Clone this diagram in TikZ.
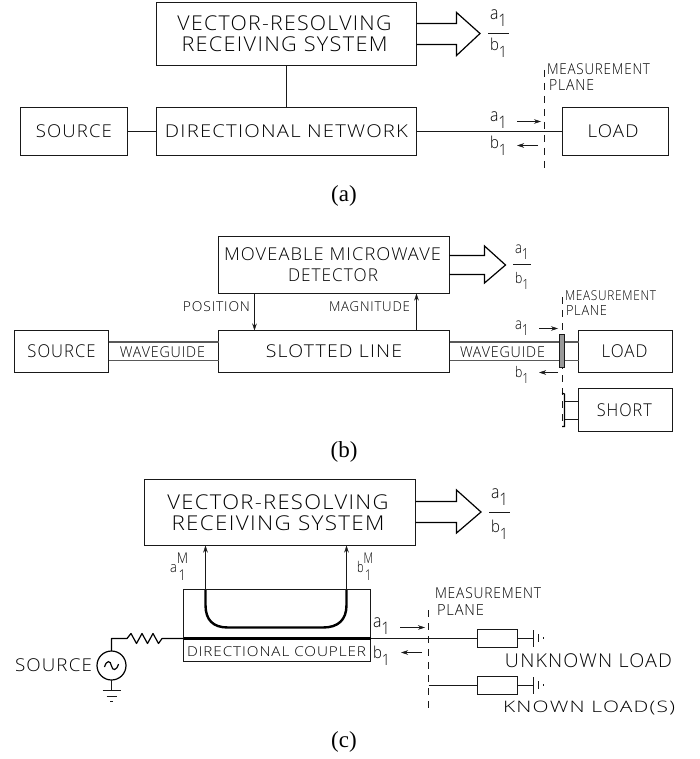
\documentclass[tikz,border=0pt]{standalone}
\usepackage{fontspec}
\usepackage{graphicx}
\usetikzlibrary{arrows.meta}
\setmainfont{Liberation Serif}
\newfontfamily\cadfont[LetterSpace=6]{Open Sans Light}
\newcommand{\cad}[4][0]{\hspace*{#1pt}\hspace*{#1pt}\resizebox*{#2pt}{#3pt}{\cadfont #4}}
\newcommand{\aone}{a\raisebox{-4pt}{\scalebox{.95}{1}}}
\newcommand{\bone}{b\raisebox{-4pt}{\scalebox{.95}{1}}}
\tikzset{
  x=1pt,y=-1pt,
  line width=1pt,
  every node/.style={inner sep=0pt,outer sep=0pt,text=black},
  box/.style 2 args={draw=black!90,minimum width=#1pt,minimum height=#2pt,align=center,font=\fontsize{10}{21}\selectfont},
  wire/.style={draw=black!90},
  poly/.style={draw=black,line width=1.2pt,line join=miter},
  tip/.style={draw=black!90,-{Stealth[length=7pt,width=4.5pt]}},
  wg/.style={draw=black!65,line width=1.8pt},
  plane/.style={draw=black!90,dash pattern=on 7pt off 6pt},
  thickline/.style={draw=black,line width=3pt},
  caption/.style={font=\fontsize{23}{26}\selectfont,text=black},
}
\begin{document}
\begin{tikzpicture}
\useasboundingbox (0,0) rectangle (699,759);
% ---------- (a)
\node[box={260}{63}] (ra) at (286.5,34) {\cad[-2]{214}{15}{VECTOR-RESOLVING}\\\cad[-2]{206}{15}{RECEIVING SYSTEM}};
\node[box={107}{48}] (sa) at (74,131.5) {\cad{76}{13}{SOURCE}};
\node[box={260}{48}] (na) at (286.5,131.5) {\cad{243}{13}{DIRECTIONAL NETWORK}};
\node[box={106}{48}] (la) at (615.5,131.5) {\cad[-2.5]{51}{13}{LOAD}};
\draw[wire] (ra) -- (na);
\draw[wire] (sa) -- (na);
\draw[wire] (na) -- (la);
\coordinate (fa1) at (416.5,23.5); \coordinate (fa2) at (416.5,44.5);
\draw[poly] (fa1) -- (456.5,23.5) -- (456.5,12.5) -- (480,33.5) -- (456.5,55.5) -- (456.5,44.5) -- (fa2);
\node (fnaa) at (498.5,18) {\cad{17}{17}{\aone}};
\node (fnba) at (498.5,48) {\cad{17}{19}{\bone}};
\coordinate (fba1) at (488,33.5); \coordinate (fba2) at (509,33.5);
\draw[wire] (fba1) -- (fba2);
\coordinate (pa1) at (544.5,70); \coordinate (pa2) at (544.5,168);
\draw[plane] (pa1) -- (pa2);
\node (mpa) at (598.5,69) {\cad{103}{11}{MEASUREMENT}};
\node (mpb) at (571.5,85) {\cad{45}{11}{PLANE}};
\node (aa) at (498.5,120) {\cad{17}{17}{\aone}};
\node (ba) at (498.5,146) {\cad{17}{19}{\bone}};
\coordinate (aa1) at (517,121.5); \coordinate (aa2) at (541,121.5);
\coordinate (ba1) at (538,145.5); \coordinate (ba2) at (517,145.5);
\draw[tip] (aa1) -- (aa2);
\draw[tip] (ba1) -- (ba2);
\node[caption] (capa) at (344,196) {(a)};
% ---------- (b)
\node[box={231}{57}] (db) at (334,265) {\cad[-1.5]{217}{13}{MOVEABLE MICROWAVE}\\\cad[-1]{90}{13}{DETECTOR}};
\node[box={94}{42}] (sb) at (61.5,351.5) {\cad{68}{13}{SOURCE}};
\node[box={231}{42}] (slb) at (334,351.5) {\cad{136}{13}{SLOTTED LINE}};
\node[box={94}{42}] (lb) at (625.5,351.5) {\cad[-1]{46}{13}{LOAD}};
\node[box={94}{43}] (shb) at (625.5,410) {\cad[-1.2]{55}{13}{SHORT}};
\coordinate (pb1) at (254.5,293.5); \coordinate (pb2) at (254.5,330.5);
\coordinate (mb1) at (416.5,330.5); \coordinate (mb2) at (416.5,293.5);
\draw[tip] (pb1) -- (pb2);
\draw[tip] (mb1) -- (mb2);
\node (posb) at (216.5,307) {\cad{67}{10}{POSITION}};
\node (magb) at (369.5,307) {\cad{81}{10}{MAGNITUDE}};
\draw[wg] (sb.east |- 0,342) -- (slb.west |- 0,342);
\draw[wg] (sb.east |- 0,360.5) -- (slb.west |- 0,360.5);
\node (wgb1) at (162.5,352) {\cad{85}{11}{WAVEGUIDE}};
\draw[wg] (slb.east |- 0,342) -- (lb.west |- 0,342);
\draw[wg] (slb.east |- 0,360.5) -- (lb.west |- 0,360.5);
\node (wgb2) at (502.5,352) {\cad{85}{11}{WAVEGUIDE}};
\coordinate (plb1) at (562.5,297); \coordinate (plb2) at (562.5,426);
\draw[plane] (plb1) -- (plb2);
\node[draw=black!90,fill=black!40,minimum width=5pt,minimum height=33pt] (flb) at (562,350.5) {};
\node (mpb1) at (610.5,296) {\cad{91}{10}{MEASUREMENT}};
\node (mpb2) at (586.5,310) {\cad{41}{10}{PLANE}};
\node (ab) at (522,328) {\cad{14}{15}{\aone}};
\node (bb) at (522,375) {\cad{14}{17}{\bone}};
\coordinate (ab1) at (539,328.5); \coordinate (ab2) at (558,328.5);
\coordinate (bb1) at (558,372.5); \coordinate (bb2) at (539,372.5);
\draw[tip] (ab1) -- (ab2);
\draw[tip] (bb1) -- (bb2);
\coordinate (sp1) at (564.5,401.5); \coordinate (sp2) at (564.5,419.5);
\draw[wire] (sp1) -- (sp1 -| shb.west);
\draw[wire] (sp2) -- (sp2 -| shb.west);
\draw[poly] (562,393) -- (564.5,394) -- (564.5,426.5) -- (562,426.5);
\coordinate (fb1) at (449.5,255.5); \coordinate (fb2) at (449.5,274.5);
\draw[poly] (fb1) -- (484.5,255.5) -- (484.5,246) -- (505.5,265) -- (484.5,283) -- (484.5,274.5) -- (fb2);
\node (fnab) at (522,252) {\cad{14}{15}{\aone}};
\node (fnbb) at (522,281) {\cad{14}{17}{\bone}};
\coordinate (fbb1) at (513,264.5); \coordinate (fbb2) at (531,264.5);
\draw[wire] (fbb1) -- (fbb2);
\node[caption] (capb) at (344,452) {(b)};
% ---------- (c)
\node[box={271}{66}] (rc) at (280,512.5) {\cad[-2]{221}{15}{VECTOR-RESOLVING}\\\cad[-2]{213}{15}{RECEIVING SYSTEM}};
\coordinate (fc1) at (415.5,501.5); \coordinate (fc2) at (415.5,522.5);
\draw[poly] (fc1) -- (456.5,501.5) -- (456.5,490) -- (481,512) -- (456.5,533) -- (456.5,522.5) -- (fc2);
\node (fnac) at (499.5,497) {\cad{17}{17}{\aone}};
\node (fnbc) at (499.5,530) {\cad{17}{19}{\bone}};
\coordinate (fbc1) at (489,512.5); \coordinate (fbc2) at (510,512.5);
\draw[wire] (fbc1) -- (fbc2);
\node[box={187}{72}] (cc) at (277,625.5) {};
\node (dcc) at (276.5,652) {\cad{179}{10}{DIRECTIONAL COUPLER}};
\coordinate (ac1) at (205.5,590); \coordinate (ac2) at (205.5,545.5);
\coordinate (bc1) at (346.5,590); \coordinate (bc2) at (346.5,545.5);
\draw[tip] (ac1) -- (ac2);
\draw[tip] (bc1) -- (bc2);
\node (amc) at (179,566.5) {\cad{18}{27}{a\raisebox{-5pt}{\shortstack{M\\[1pt]1}}}};
\node (bmc) at (365,566.5) {\cad{16}{27}{b\raisebox{-5pt}{\shortstack{M\\[1pt]1}}}};
\draw[draw=black,line width=2.4pt] (ac1) -- (205.5,605) .. controls (205.5,620) and (213,627.5) .. (228,627.5) -- (323,627.5) .. controls (338,627.5) and (346.5,620) .. (346.5,605) -- (bc1);
\coordinate (tl1) at (183.5,638.5); \coordinate (tl2) at (370.5,638.5);
\draw[thickline] (tl1) -- (tl2);
\node[draw=black,line width=1.2pt,circle,minimum size=29pt] (gen) at (111.5,665.5) {};
\node (sc) at (53.5,665) {\cad{77}{13}{SOURCE}};
\draw[poly] (104.5,667) .. controls (106.5,660) and (110.5,660) .. (111.5,666) .. controls (112.5,671) and (116.5,671) .. (118.5,664);
\coordinate (wc) at (111.5,638.5);
\coordinate (rs) at (162,638.5);
\draw[poly,line join=round] (gen.north) -- (wc) -- (127,638.5) -- (131,633.5) -- (136.5,643.5) -- (142,633.5) -- (147.5,643.5) -- (153,633.5) -- (158.5,643.5) -- (rs) -- (tl1);
\coordinate (gnd) at (111.5,690.5);
\draw[wire] (gen.south) -- (gnd);
\draw[wire] (102.5,690.5) -- (120.5,690.5);
\draw[wire] (106.5,696.5) -- (116.5,696.5);
\draw[wire] (110,701.5) -- (113,701.5);
\node (ac) at (381.5,626) {\cad{17}{17}{\aone}};
\node (bc) at (381.5,656) {\cad{17}{19}{\bone}};
\coordinate (aac1) at (400,627.5); \coordinate (aac2) at (425,627.5);
\coordinate (bac1) at (422,652.5); \coordinate (bac2) at (401,652.5);
\draw[tip] (aac1) -- (aac2);
\draw[tip] (bac1) -- (bac2);
\coordinate (plc1) at (428.5,610); \coordinate (plc2) at (428.5,711);
\draw[plane] (plc1) -- (plc2);
\node (mpc1) at (488,593) {\cad{106}{11}{MEASUREMENT}};
\node (mpc2) at (460.5,610) {\cad{47}{11}{PLANE}};
\node[draw=black!90,minimum width=40pt,minimum height=18pt] (r1) at (497.5,638.5) {};
\node[draw=black!90,minimum width=40pt,minimum height=18pt] (r2) at (497.5,685.5) {};
\coordinate (w1) at (533.5,638.5); \coordinate (w2) at (533.5,685.5);
\coordinate (wk) at (428.5,685.5);
\draw[wire] (tl2) -- (r1.west);
\draw[wire] (r1.east) -- (w1);
\draw[wire] (wk) -- (r2.west);
\draw[wire] (r2.east) -- (w2);
\draw[wire] (533.5,630) -- (533.5,647);
\draw[wire] (538.5,634) -- (538.5,642);
\draw[wire] (543.5,637) -- (543.5,639);
\draw[wire] (533.5,677) -- (533.5,694);
\draw[wire] (538.5,681) -- (538.5,689);
\draw[wire] (543.5,684) -- (543.5,686);
\node (uk) at (588.5,661) {\cad{167}{14}{UNKNOWN LOAD}};
\node (kn) at (589,708) {\cad{172}{14}{KNOWN LOAD(S)}};
\node[caption] (capc) at (344,742) {(c)};
\end{tikzpicture}
\end{document}
